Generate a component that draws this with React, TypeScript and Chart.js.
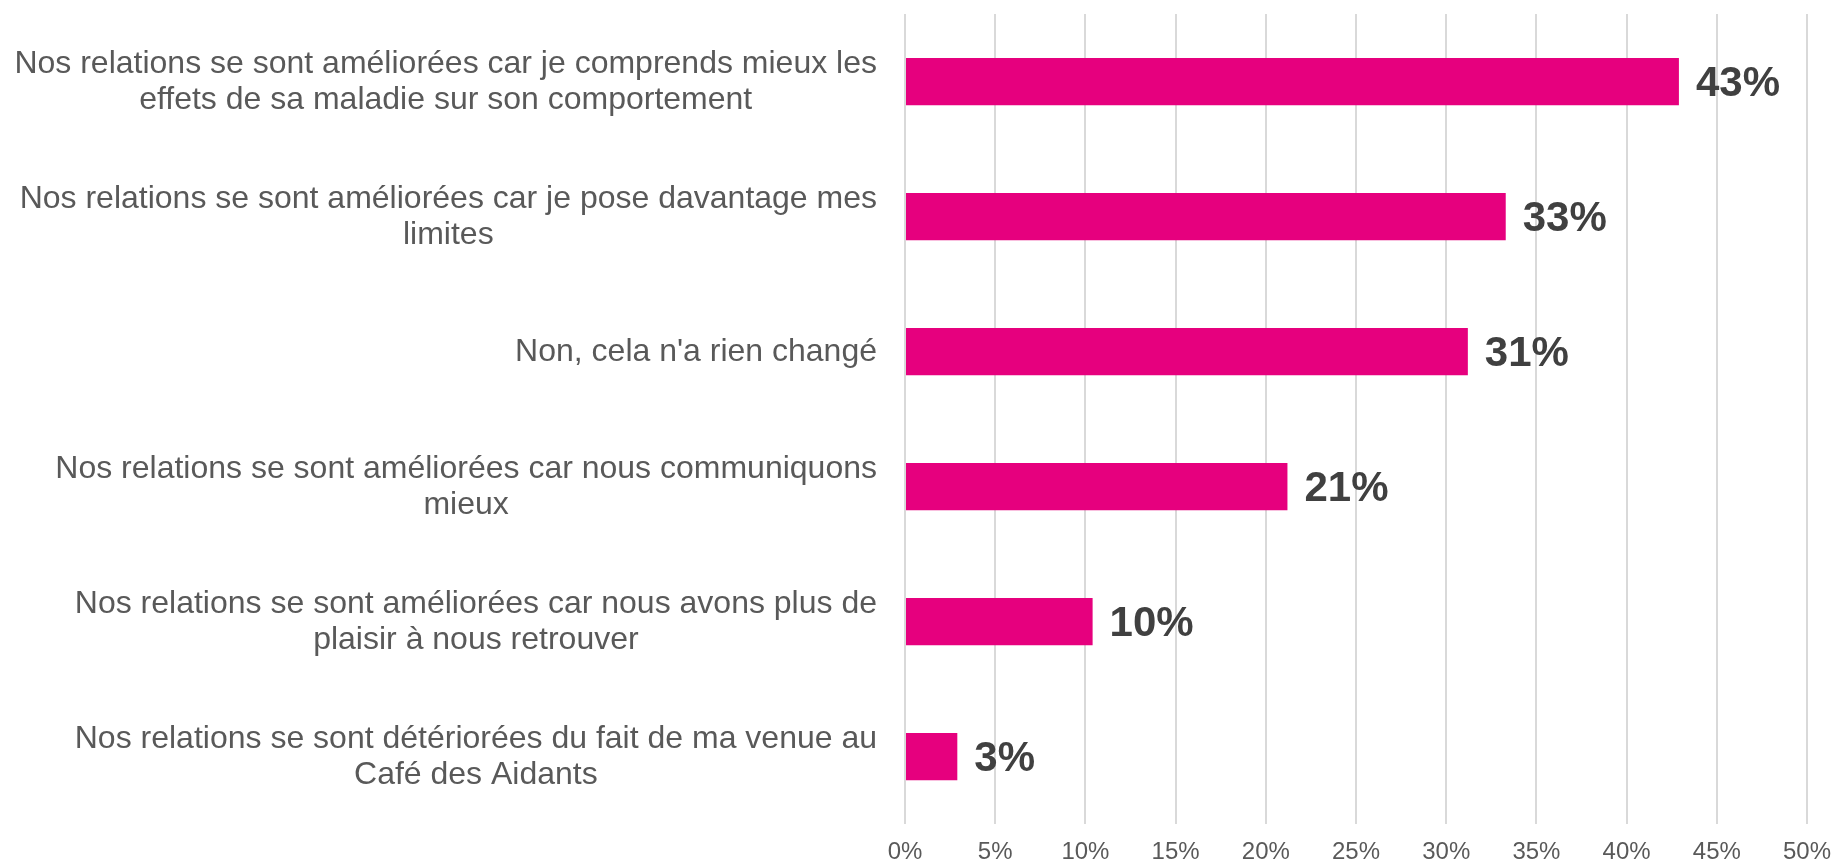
import React, { useEffect, useRef } from "react";
import { Chart, registerables } from "chart.js";

Chart.register(...registerables);

const categories: string[][] = [
  ["Nos relations se sont améliorées car je comprends mieux les", "effets de sa maladie sur son comportement"],
  ["Nos relations se sont améliorées car je pose davantage mes", "limites"],
  ["Non, cela n'a rien changé"],
  ["Nos relations se sont améliorées car nous communiquons", "mieux"],
  ["Nos relations se sont améliorées car nous avons plus de", "plaisir à nous retrouver"],
  ["Nos relations se sont détériorées du fait de ma venue au", "Café des Aidants"],
];

const values: number[] = [42.9, 33.3, 31.2, 21.2, 10.4, 2.9];
const valueLabels: string[] = ["43%", "33%", "31%", "21%", "10%", "3%"];
const xTickLabels: string[] = ["0%", "5%", "10%", "15%", "20%", "25%", "30%", "35%", "40%", "45%", "50%"];

const FONT = '"Liberation Sans", Arial, Helvetica, sans-serif';
const BAR_COLOR = "#E6007E";
const LABEL_COLOR = "#595959";
const VALUE_COLOR = "#404040";

const drawPlugin = {
  id: "customLabels",
  afterDraw(chart: any) {
    const ctx = chart.ctx;
    const yScale = chart.scales.y;
    ctx.save();
    // category labels: block right-aligned, lines centered within block
    ctx.font = `32px ${FONT}`;
    ctx.fillStyle = LABEL_COLOR;
    ctx.textAlign = "center";
    ctx.textBaseline = "middle";
    const rightEdge = yScale.right - 28;
    const lineH = 36;
    categories.forEach((lines, i) => {
      const cy = yScale.getPixelForTick(i) + 1;
      const w = Math.max(...lines.map((l) => ctx.measureText(l).width));
      const cx = rightEdge - w / 2;
      lines.forEach((l, j) => {
        ctx.fillText(l, cx, cy + (j - (lines.length - 1) / 2) * lineH);
      });
    });
    // value labels
    ctx.font = `bold 42px ${FONT}`;
    ctx.fillStyle = VALUE_COLOR;
    ctx.textAlign = "left";
    const meta = chart.getDatasetMeta(0);
    meta.data.forEach((el: any, i: number) => {
      ctx.fillText(valueLabels[i], el.x + 17, el.y + 2.5);
    });
    ctx.restore();
  },
};

export default function App() {
  const ref = useRef<HTMLCanvasElement | null>(null);
  useEffect(() => {
    if (!ref.current) return;
    const chart = new Chart(ref.current, {
      type: "bar",
      data: {
        labels: categories.map((c) => c.join(" ")),
        datasets: [
          {
            data: values,
            backgroundColor: BAR_COLOR,
            borderWidth: 0,
            barPercentage: 0.35,
            categoryPercentage: 1,
          },
        ],
      },
      options: {
        indexAxis: "y",
        responsive: false,
        animation: false,
        devicePixelRatio: 1,
        layout: { padding: { top: 14, right: 27, left: 0, bottom: 0 } },
        plugins: {
          legend: { display: false },
          tooltip: { enabled: false },
        },
        scales: {
          x: {
            min: 0,
            max: 50,
            ticks: {
              stepSize: 5,
              callback: (_v: any, idx: number) => xTickLabels[idx],
              font: { family: FONT, size: 24 },
              color: LABEL_COLOR,
              padding: 14,
              maxRotation: 0,
            },
            grid: { color: "#D9D9D9", lineWidth: 2, drawTicks: false },
            border: { display: false },
            afterFit: (s: any) => {
              s.height = 38;
              s.paddingRight = 0;
              s.paddingLeft = 0;
            },
          },
          y: {
            ticks: { display: false },
            grid: { display: false },
            border: { display: false },
            afterFit: (s: any) => {
              s.width = 905;
            },
          },
        },
      } as any,
      plugins: [drawPlugin],
    });
    return () => chart.destroy();
  }, []);
  return (
    <div style={{ position: "fixed", left: 0, top: 0, width: 1834, height: 862, background: "#fff" }}>
      <canvas ref={ref} width={1834} height={862} style={{ display: "block" }} />
    </div>
  );
}
